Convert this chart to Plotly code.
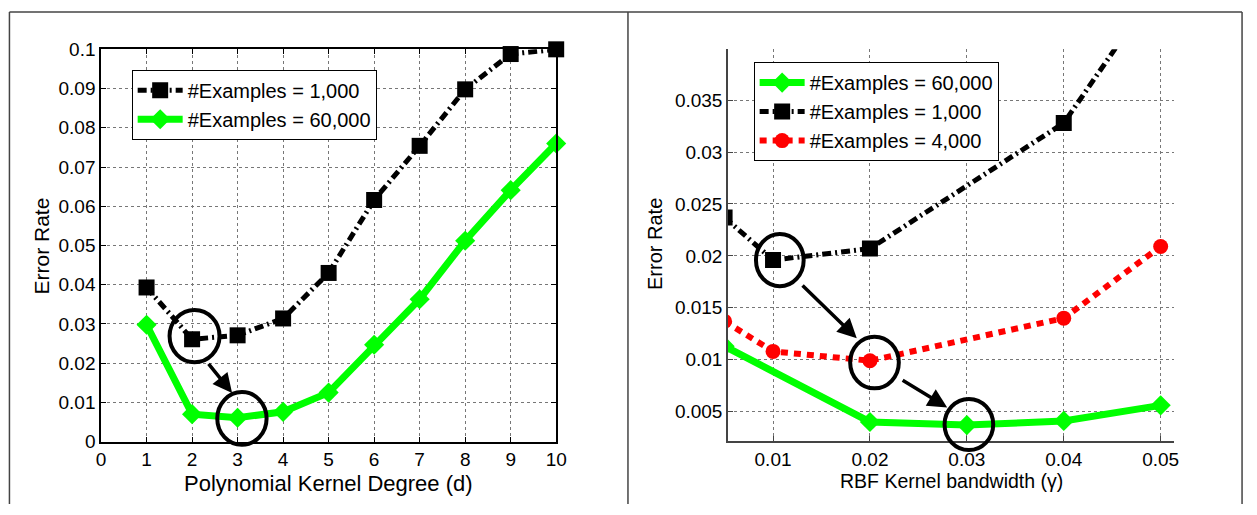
import plotly.graph_objects as go

# ---------------- data ----------------
DEGREE = [1, 2, 3, 4, 5, 6, 7, 8, 9, 10]
ERR_POLY_1000 = [0.0393, 0.0261, 0.0271, 0.0314, 0.0430, 0.0616, 0.0754, 0.0898, 0.0988, 0.1000]
ERR_POLY_60000 = [0.0298, 0.0070, 0.0061, 0.0076, 0.0125, 0.0247, 0.0363, 0.0512, 0.0641, 0.0760]

GAMMA_60000 = [0.005, 0.02, 0.03, 0.04, 0.05]
ERR_RBF_60000 = [0.0113, 0.0040, 0.0037, 0.0041, 0.0056]
GAMMA_1000 = [0.005, 0.01, 0.02, 0.04, 0.05]
ERR_RBF_1000 = [0.0237, 0.0196, 0.0207, 0.0328, 0.0463]
GAMMA_4000 = [0.005, 0.01, 0.02, 0.04, 0.05]
ERR_RBF_4000 = [0.0137, 0.0108, 0.0099, 0.0140, 0.0209]

LEFT_XTICKS = [0, 1, 2, 3, 4, 5, 6, 7, 8, 9, 10]
LEFT_XTICKTEXT = ["0", "1", "2", "3", "4", "5", "6", "7", "8", "9", "10"]
LEFT_YTICKS = [0, 0.01, 0.02, 0.03, 0.04, 0.05, 0.06, 0.07, 0.08, 0.09, 0.1]
LEFT_YTICKTEXT = ["0", "0.01", "0.02", "0.03", "0.04", "0.05", "0.06", "0.07", "0.08", "0.09", "0.1"]
RIGHT_XTICKS = [0.01, 0.02, 0.03, 0.04, 0.05]
RIGHT_XTICKTEXT = ["0.01", "0.02", "0.03", "0.04", "0.05"]
RIGHT_YTICKS = [0.005, 0.01, 0.015, 0.02, 0.025, 0.03, 0.035]
RIGHT_YTICKTEXT = ["0.005", "0.01", "0.015", "0.02", "0.025", "0.03", "0.035"]

# highlight annotations (data units): (x, y, half-width, half-height)
LEFT_CIRCLES = [(2.054, 0.0269, 0.549, 0.00668), (3.095, 0.00592, 0.542, 0.00672)]
LEFT_ARROWS = [((2.336, 0.0202), (2.879, 0.0124))]
RIGHT_CIRCLES = [(0.0107, 0.01959, 0.00246, 0.00251),
                 (0.02047, 0.00973, 0.00251, 0.00249),
                 (0.03021, 0.00376, 0.00251, 0.00246)]
RIGHT_ARROWS = [((0.01289, 0.01730), (0.01864, 0.01207)),
                ((0.02322, 0.00810), (0.02797, 0.00540))]

# ---------------- layout geometry ----------------
W, H = 1257, 515
FONT = "Liberation Sans, Arial, sans-serif"
L_XDOM = [97.3 / W, 558.3 / W]
L_YDOM = [1 - 450 / H, 1 - 41 / H]
R_XDOM = [732.3 / W, 1184.3 / W]
R_YDOM = [1 - 449.5 / H, 1 - 41 / H]
L_XR = [0, 10]
L_YR = [0, 0.1]
R_XR = [0.00535, 0.0514]
R_YR = [0.00215, 0.0399]


def to_paper(xv, yv, xdom, ydom, xr, yr):
    px = xdom[0] + (xv - xr[0]) / (xr[1] - xr[0]) * (xdom[1] - xdom[0])
    py = ydom[0] + (yv - yr[0]) / (yr[1] - yr[0]) * (ydom[1] - ydom[0])
    return px, py


fig = go.Figure()

BLACK_DASH = "9px,4px,2px,4px"

fig.add_trace(go.Scatter(
    x=DEGREE, y=ERR_POLY_1000, mode="lines+markers", name="#Examples = 1,000",
    line=dict(color="black", width=5, dash=BLACK_DASH),
    marker=dict(symbol="square", size=16, color="black"),
    xaxis="x", yaxis="y", legend="legend", cliponaxis=False))
fig.add_trace(go.Scatter(
    x=DEGREE, y=ERR_POLY_60000, mode="lines+markers", name="#Examples = 60,000",
    line=dict(color="#00ff00", width=7),
    marker=dict(symbol="diamond", size=15.5, color="#00ff00"),
    xaxis="x", yaxis="y", legend="legend", cliponaxis=False))

fig.add_trace(go.Scatter(
    x=GAMMA_60000, y=ERR_RBF_60000, mode="lines+markers", name="#Examples = 60,000",
    line=dict(color="#00ff00", width=7),
    marker=dict(symbol="diamond", size=15.5, color="#00ff00"),
    xaxis="x2", yaxis="y2", legend="legend2"))
fig.add_trace(go.Scatter(
    x=GAMMA_1000, y=ERR_RBF_1000, mode="lines+markers", name="#Examples = 1,000",
    line=dict(color="black", width=5, dash=BLACK_DASH),
    marker=dict(symbol="square", size=16, color="black"),
    xaxis="x2", yaxis="y2", legend="legend2"))
fig.add_trace(go.Scatter(
    x=GAMMA_4000, y=ERR_RBF_4000, mode="lines+markers", name="#Examples = 4,000",
    line=dict(color="#ff0000", width=6, dash="7px,6px"),
    marker=dict(symbol="circle", size=15, color="#ff0000"),
    xaxis="x2", yaxis="y2", legend="legend2"))

tickfont = dict(family=FONT, size=19, color="black")
grid = dict(showgrid=True, gridcolor="#777", griddash="dot", gridwidth=1, zeroline=False)

fig.update_layout(
    width=W, height=H, margin=dict(l=0, r=0, t=0, b=0),
    paper_bgcolor="white", plot_bgcolor="white",
    font=dict(family=FONT, color="black"),
    xaxis=dict(domain=L_XDOM, range=L_XR, tickvals=LEFT_XTICKS, ticktext=LEFT_XTICKTEXT,
               anchor="y", showline=True, linecolor="black", linewidth=1.5, mirror="ticks",
               ticks="inside", ticklen=5, tickcolor="black", tickfont=tickfont, **grid),
    yaxis=dict(domain=L_YDOM, range=L_YR, tickvals=LEFT_YTICKS, ticktext=LEFT_YTICKTEXT,
               anchor="x", showline=True, linecolor="black", linewidth=1.5, mirror="ticks",
               ticks="inside", ticklen=5, tickcolor="black", tickfont=tickfont, **grid),
    xaxis2=dict(domain=R_XDOM, range=R_XR, tickvals=RIGHT_XTICKS, ticktext=RIGHT_XTICKTEXT,
                anchor="y2", showline=True, linecolor="#444", linewidth=1.5, mirror=False,
                ticks="inside", ticklen=5, tickcolor="#444", tickfont=tickfont, **grid),
    yaxis2=dict(domain=R_YDOM, range=R_YR, tickvals=RIGHT_YTICKS, ticktext=RIGHT_YTICKTEXT,
                anchor="x2", showline=True, linecolor="#444", linewidth=1.5, mirror=False,
                ticks="inside", ticklen=5, tickcolor="#444", tickfont=tickfont, **grid),
    legend=dict(x=128.3 / W, y=1 - 62.3 / H, xanchor="left", yanchor="top",
                bordercolor="black", borderwidth=1, bgcolor="white",
                font=dict(family=FONT, size=20, color="black"), itemwidth=45, tracegroupgap=0),
    legend2=dict(x=758.3 / W, y=1 - 54.3 / H, xanchor="left", yanchor="top",
                 bordercolor="black", borderwidth=1, bgcolor="white",
                 font=dict(family=FONT, size=20, color="black"), itemwidth=45, tracegroupgap=0),
    showlegend=True,
)

annotations = [
    dict(text="Error Rate", x=37 / W, y=1 - 246 / H, xref="paper", yref="paper",
         xanchor="center", yanchor="middle",
         textangle=-90, showarrow=False, font=dict(family=FONT, size=21)),
    dict(text="Polynomial Kernel Degree (d)", x=328 / W, y=1 - 493.5 / H, xref="paper",
         yref="paper", xanchor="center", yanchor="middle",
         showarrow=False, font=dict(family=FONT, size=22)),
    dict(text="Error Rate", x=658.3 / W, y=1 - 244 / H, xref="paper", yref="paper",
         xanchor="center", yanchor="middle",
         textangle=-90, showarrow=False, font=dict(family=FONT, size=20)),
    dict(text="RBF Kernel bandwidth (\u03b3)", x=958.3 / W, y=1 - 491 / H, xref="paper",
         yref="paper", xanchor="center", yanchor="middle",
         showarrow=False, font=dict(family=FONT, size=19.5)),
]

for (tail, tip) in LEFT_ARROWS:
    annotations.append(dict(x=tip[0], y=tip[1], ax=tail[0], ay=tail[1], xref="x", yref="y",
                            axref="x", ayref="y", text="", showarrow=True, arrowhead=2,
                            arrowsize=1.1, arrowwidth=3.5, arrowcolor="black"))
for (tail, tip) in RIGHT_ARROWS:
    annotations.append(dict(x=tip[0], y=tip[1], ax=tail[0], ay=tail[1], xref="x2", yref="y2",
                            axref="x2", ayref="y2", text="", showarrow=True, arrowhead=2,
                            arrowsize=1.1, arrowwidth=3.5, arrowcolor="black"))
fig.update_layout(annotations=annotations)

shapes = []
for (cx, cy, rx, ry) in LEFT_CIRCLES:
    x0, y0 = to_paper(cx - rx, cy - ry, L_XDOM, L_YDOM, L_XR, L_YR)
    x1, y1 = to_paper(cx + rx, cy + ry, L_XDOM, L_YDOM, L_XR, L_YR)
    shapes.append(dict(type="circle", xref="paper", yref="paper", x0=x0, y0=y0, x1=x1, y1=y1,
                       line=dict(color="black", width=4)))
for (cx, cy, rx, ry) in RIGHT_CIRCLES:
    x0, y0 = to_paper(cx - rx, cy - ry, R_XDOM, R_YDOM, R_XR, R_YR)
    x1, y1 = to_paper(cx + rx, cy + ry, R_XDOM, R_YDOM, R_XR, R_YR)
    shapes.append(dict(type="circle", xref="paper", yref="paper", x0=x0, y0=y0, x1=x1, y1=y1,
                       line=dict(color="black", width=4)))

# panel frames (open at the bottom)
FRAME = dict(color="#444", width=1.5)
shapes.append(dict(type="line", xref="paper", yref="paper", x0=4.5 / W, x1=1253 / W,
                   y0=1 - 2 / H, y1=1 - 2 / H, line=FRAME))
for xp in (4.5, 631, 1253):
    shapes.append(dict(type="line", xref="paper", yref="paper", x0=xp / W, x1=xp / W,
                       y0=0, y1=1 - 2 / H, line=FRAME))
fig.update_layout(shapes=shapes)

fig.write_html(
    "out.html",
    post_script="document.documentElement.style.margin='0';document.body.style.margin='0';"
                "document.body.style.overflow='hidden';",
)
